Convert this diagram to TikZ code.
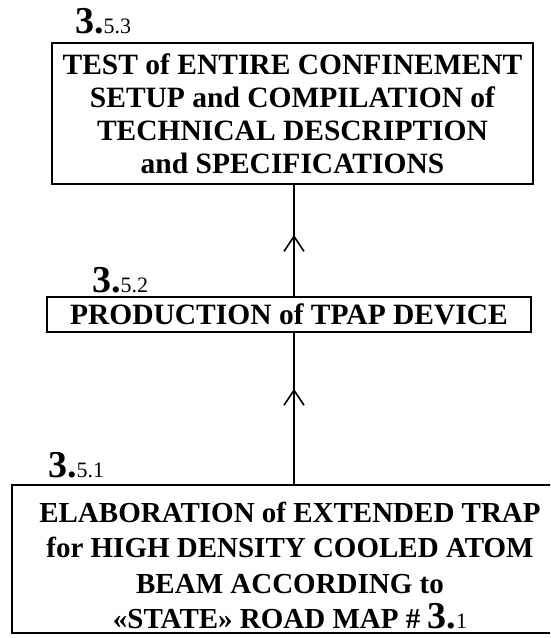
\documentclass[tikz,border=0pt]{standalone}
\usepackage{fontspec}
\setmainfont{Liberation Serif}
\usetikzlibrary{arrows.meta,decorations.markings}
\newcommand\numlbl[2]{{\fontsize{38}{38}\selectfont\bfseries #1.}{\fontsize{22}{22}\selectfont\mdseries #2}}
\begin{document}
\begin{tikzpicture}[x=1pt,y=1pt,
  box/.style={draw, line width=1.8pt, inner sep=0pt, align=center,
    font=\fontsize{29.5}{33}\selectfont\bfseries},
  lbl/.style={anchor=base west, inner sep=0pt},
  link/.style={line width=1.8pt, postaction={decorate},
    decoration={markings, mark=at position #1 with {\arrow{Straight Barb[length=15pt,width=20pt,line width=1.6pt]}}}}
  ]
\fill[white] (0,0) rectangle (550,-638);
\useasboundingbox (0,0) rectangle (550,-638);
\clip (0,0) rectangle (550,-638);

\node[box, minimum width=481pt, minimum height=141pt] (top) at (292.5,-113.5)
  {TEST of ENTIRE CONFINEMENT\\SETUP and COMPILATION of\\TECHNICAL DESCRIPTION\\and SPECIFICATIONS};
\node[box, minimum width=484pt, minimum height=35pt] (mid) at (289,-314.5)
  {PRODUCTION of TPAP DEVICE};
\node[box, minimum width=556pt, minimum height=148pt, font=\fontsize{29}{35.5}\selectfont\bfseries] (bot) at (290,-559)
  {\rule{0pt}{34pt}ELABORATION of EXTENDED TRAP\\for HIGH DENSITY COOLED ATOM\\BEAM ACCORDING to\\«STATE» ROAD MAP \# \numlbl{3}{1}};

\node[lbl] (l3) at (75,-33) {\numlbl{3}{5.3}};
\node[lbl] (l2) at (92,-292) {\numlbl{3}{5.2}};
\node[lbl] (l1) at (48,-477) {\numlbl{3}{5.1}};

\coordinate (ax) at (294,0);
\draw[link=0.55] (mid.north -| ax) -- (top.south -| ax);
\draw[link=0.63] (bot.north -| ax) -- (mid.south -| ax);
\end{tikzpicture}
\end{document}
